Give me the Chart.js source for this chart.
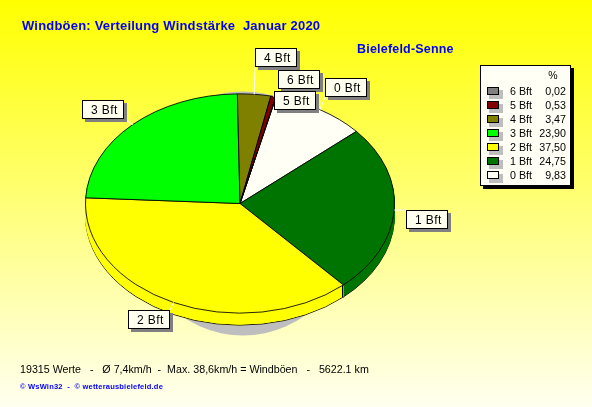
<!DOCTYPE html>
<html>
<head>
<meta charset="utf-8">
<title>Windböen</title>
<script src="https://cdn.jsdelivr.net/npm/chart.js@4/dist/chart.umd.min.js"></script>
<style>
html, body { margin: 0; padding: 0; background: #fff; }
canvas { display: block; }
</style>
</head>
<body>
<canvas id="windChart" width="592" height="407"></canvas>
<script>
// data, clockwise from 0 Bft
const categories = ["0 Bft", "1 Bft", "2 Bft", "3 Bft", "4 Bft", "5 Bft", "6 Bft"];
const percentValues = [9.83, 24.75, 37.50, 23.90, 3.47, 0.53, 0.02];
const sliceColors = ["#FFFFF5", "#007400", "#FFFF00", "#00FF00", "#808000", "#800000", "#808080"];

const titleText = "Windböen: Verteilung Windstärke  Januar 2020";
const stationText = "Bielefeld-Senne";
const footerText = "19315 Werte   -   Ø 7,4km/h  -  Max. 38,6km/h = Windböen   -   5622.1 km";
const creditText = "© WsWin32  -  © wetterausbielefeld.de";

// pie look
const squash = 110 / 155;
const depth = 12;

// label boxes (left, top), drawn in this order
const labelBoxes = [
    { cat: "3 Bft", x: 82, y: 100 },
    { cat: "4 Bft", x: 255, y: 48 },
    { cat: "6 Bft", x: 278, y: 70 },
    { cat: "0 Bft", x: 325, y: 78 },
    { cat: "5 Bft", x: 274, y: 91 },
    { cat: "1 Bft", x: 406, y: 210 },
    { cat: "2 Bft", x: 128, y: 310 }
];

function drawText(ctx, text, x, y, font, color, spacing, align) {
    ctx.font = font;
    ctx.fillStyle = color;
    ctx.letterSpacing = spacing || "0px";
    ctx.textAlign = align || "left";
    ctx.textBaseline = "alphabetic";
    ctx.fillText(text, x, y);
    ctx.letterSpacing = "0px";
}

const windPlugin = {
    id: "windPlugin",
    beforeDraw(chart) {
        const ctx = chart.ctx;
        const bg = ctx.createLinearGradient(0, 0, 0, 407);
        bg.addColorStop(0, "#FFFF00");
        bg.addColorStop(1, "#FFFFF0");
        ctx.fillStyle = bg;
        ctx.fillRect(0, 0, 592, 407);
    },
    beforeDatasetsDraw(chart) {
        const ctx = chart.ctx;
        const arcs = chart.getDatasetMeta(0).data;
        const cx = arcs[0].x, cy = arcs[0].y, r = arcs[0].outerRadius;

        // grey shadow under the pie
        ctx.fillStyle = "#BEBEBE";
        ctx.beginPath();
        ctx.ellipse(cx + 3, cy + 10, 113, 122, 0, 0, Math.PI * 2);
        ctx.fill();

        // side wall: stacked copies of the slices
        for (let d = depth; d >= 1; d--) {
            ctx.save();
            ctx.translate(0, cy + d);
            ctx.scale(1, squash);
            ctx.translate(0, -cy);
            arcs.forEach((arc, i) => {
                const layer = Object.create(arc);
                layer.options = { ...arc.options };
                if (d < depth) layer.options.borderColor = sliceColors[i];
                layer.draw(ctx);
            });
            ctx.restore();
        }

        // vertical edges on the front of the wall
        ctx.strokeStyle = "#000";
        ctx.lineWidth = 1;
        const edges = [0, Math.PI];
        arcs.forEach(arc => {
            const a = arc.startAngle;
            if (Math.sin(a) > 0) edges.push(a);
        });
        edges.forEach(a => {
            const x = Math.floor(cx + (r - 1) * Math.cos(a)) + 0.5;
            const y = cy + r * squash * Math.sin(a);
            ctx.beginPath();
            ctx.moveTo(x, y);
            ctx.lineTo(x, y + depth);
            ctx.stroke();
        });

        // top face
        ctx.save();
        ctx.translate(0, cy);
        ctx.scale(1, squash);
        ctx.translate(0, -cy);
    },
    afterDatasetsDraw(chart) {
        const ctx = chart.ctx;
        ctx.restore();
        const arcs = chart.getDatasetMeta(0).data;

        drawText(ctx, titleText, 22, 30, "bold 13px 'Liberation Sans'", "#0000FF", "0.2px");
        drawText(ctx, stationText, 357, 53, "bold 12.5px 'Liberation Sans'", "#0000FF", "0.2px");
        drawText(ctx, footerText, 20, 373, "10.7px 'Liberation Sans'", "#000");
        drawText(ctx, creditText, 20, 389, "bold 7.5px 'Liberation Sans'", "#0000FF", "0.2px");

        // labels with leader lines
        const boxW = 42, boxH = 19;
        labelBoxes.forEach(box => {
            const arc = arcs[categories.indexOf(box.cat)];
            const mid = (arc.startAngle + arc.endAngle) / 2;
            const ax = arc.x + arc.outerRadius * Math.cos(mid);
            const ay = arc.y + arc.outerRadius * squash * Math.sin(mid);
            const bx = Math.min(Math.max(ax, box.x), box.x + boxW);
            const by = Math.min(Math.max(ay, box.y), box.y + boxH);
            ctx.strokeStyle = "#FFFFFF";
            ctx.lineWidth = 1;
            ctx.beginPath();
            ctx.moveTo(ax, ay);
            ctx.lineTo(bx, by);
            ctx.stroke();

            ctx.fillStyle = "#808080";
            ctx.fillRect(box.x + 3, box.y + 3, boxW, boxH);
            ctx.fillStyle = "#FFFFF0";
            ctx.fillRect(box.x, box.y, boxW, boxH);
            ctx.strokeStyle = "#000";
            ctx.strokeRect(box.x + 0.5, box.y + 0.5, boxW - 1, boxH - 1);
            drawText(ctx, box.cat, box.x + 9, box.y + 14, "12px 'Liberation Sans'", "#000", "0.4px");
        });

        // legend
        const lx = 480, ly = 65, lw = 91, lh = 121;
        ctx.fillStyle = "#000";
        ctx.fillRect(lx + 3, ly + 3, lw, lh);
        ctx.fillStyle = "#FFFFF5";
        ctx.fillRect(lx, ly, lw, lh);
        ctx.strokeStyle = "#000";
        ctx.strokeRect(lx + 0.5, ly + 0.5, lw - 1, lh - 1);
        drawText(ctx, "%", 553, 79, "10.5px 'Liberation Sans'", "#000", "0px", "center");
        for (let i = categories.length - 1, row = 0; i >= 0; i--, row++) {
            const y = 87 + row * 14;
            ctx.fillStyle = "#BEBEBE";
            ctx.fillRect(489, y + 3, 14, 9);
            ctx.fillStyle = sliceColors[i];
            ctx.fillRect(487, y, 11, 8);
            ctx.strokeStyle = "#000";
            ctx.strokeRect(487.5, y + 0.5, 11, 7);
            drawText(ctx, categories[i], 510, y + 8, "10.7px 'Liberation Sans'", "#000");
            drawText(ctx, percentValues[i].toFixed(2).replace(".", ","), 566, y + 8, "10.7px 'Liberation Sans'", "#000", "0px", "right");
        }
    }
};

new Chart("windChart", {
    type: "pie",
    data: {
        labels: categories,
        datasets: [{
            data: percentValues,
            backgroundColor: sliceColors,
            borderColor: "#000000",
            borderWidth: 1,
            borderAlign: "center"
        }]
    },
    options: {
        responsive: false,
        animation: false,
        rotation: 13.5,
        layout: { padding: { left: 85, right: 197, top: 48.5, bottom: 48.5 } },
        plugins: {
            legend: { display: false },
            tooltip: { enabled: false }
        }
    },
    plugins: [windPlugin]
});
</script>
</body>
</html>
